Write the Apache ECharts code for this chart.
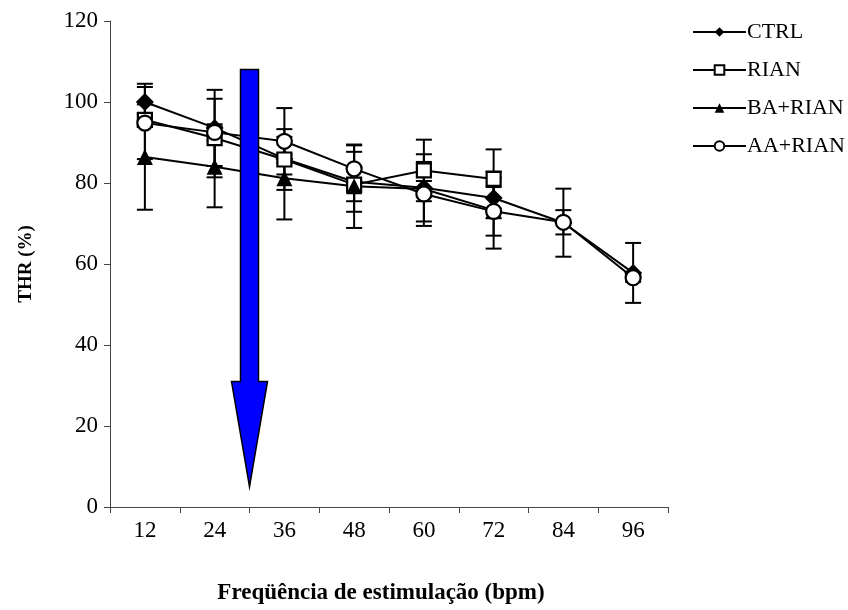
<!DOCTYPE html>
<html>
<head>
<meta charset="utf-8">
<title>THR (%) vs frequência de estimulação</title>
<script src="https://cdn.jsdelivr.net/npm/echarts@6/dist/echarts.min.js"></script>
<style>
  html, body { margin: 0; padding: 0; background: #fff; }
  #chart { width: 848px; height: 610px; }
</style>
</head>
<body>
<div id="chart"></div>
<script>
// Stimulation frequencies (bpm)
const categories = ['12', '24', '36', '48', '60', '72', '84', '96'];

// Group means (THR %) and standard deviations
const ctrl   = [100.0, 93.6, 86.0, 80.3, 78.8, 76.3, 70.2, 57.8];
const ctrlSd = [4.5, 9.4, 1.0, 7.4, 8.3, 5.0, 8.4, 7.4];

const rian   = [95.6, 91.1, 85.8, 79.6, 83.1, 81.0, null, null];
const rianSd = [1.5, 9.7, 7.5, 4.1, 7.6, 7.3, null, null];

const baRian   = [86.4, 84.0, 81.2, 79.2, 78.5, 73.3, null, null];
const baRianSd = [13.0, 10.0, 10.2, 10.3, 2.0, 9.5, null, null];

const aaRian   = [94.8, 92.5, 90.3, 83.5, 77.3, 73.0, 70.3, 56.6];
const aaRianSd = [8.9, 2.0, 8.2, 5.8, 7.9, 6.0, 3.0, 1.0];

// Y axis ticks
const yMin = 0, yMax = 120, yStep = 20;

// Arrow annotation (value range along the y axis, between 24 and 36 bpm)
const arrowFrom = ['24', '36'];
const arrowTop = 108, arrowHeadBase = 31, arrowTip = 5;

const FONT = "'Liberation Serif', 'Times New Roman', serif";

function errorData(means, sds) {
  const out = [];
  means.forEach((m, i) => {
    if (m != null && sds[i] != null) out.push([i, m - sds[i], m + sds[i]]);
  });
  return out;
}

function renderErrorBar(params, api) {
  const i = api.value(0);
  const lo = api.coord([i, api.value(1)]);
  const hi = api.coord([i, api.value(2)]);
  const hw = 8;
  const style = { stroke: '#000', lineWidth: 2 };
  return {
    type: 'group',
    children: [
      { type: 'line', shape: { x1: lo[0], y1: lo[1], x2: hi[0], y2: hi[1] }, style },
      { type: 'line', shape: { x1: hi[0] - hw, y1: hi[1], x2: hi[0] + hw, y2: hi[1] }, style },
      { type: 'line', shape: { x1: lo[0] - hw, y1: lo[1], x2: lo[0] + hw, y2: lo[1] }, style }
    ]
  };
}

function errorSeries(name, means, sds) {
  return {
    type: 'custom',
    name: name + ' SD',
    renderItem: renderErrorBar,
    data: errorData(means, sds),
    encode: { x: 0, y: [1, 2] },
    z: 1,
    silent: true
  };
}

const symbolSizes = { diamond: [18, 18], rect: 14, triangle: 16, circle: 15 };

function lineSeries(name, data, symbol, filled) {
  return {
    type: 'line',
    name: name,
    data: data,
    symbol: symbol,
    symbolSize: symbolSizes[symbol],
    showAllSymbol: true,
    connectNulls: false,
    z: 3,
    lineStyle: { color: '#000', width: 2 },
    itemStyle: {
      color: filled ? '#000' : '#fff',
      borderColor: '#000',
      borderWidth: filled ? 0 : 2.2
    }
  };
}

const chart = echarts.init(document.getElementById('chart'), null, { renderer: 'canvas' });

chart.setOption({
  animation: false,
  backgroundColor: '#fff',
  textStyle: { fontFamily: FONT, color: '#000' },
  grid: { left: 110, right: 180, top: 21, bottom: 102 },
  legend: {
    orient: 'vertical',
    left: 687,
    top: 16,
    itemWidth: 53,
    itemHeight: 12,
    itemGap: 16,
    data: ['CTRL', 'RIAN', 'BA+RIAN', 'AA+RIAN'],
    textStyle: { fontFamily: FONT, fontSize: 22, color: '#000', padding: [0, 0, 0, -4] }
  },
  xAxis: {
    type: 'category',
    data: categories,
    boundaryGap: true,
    name: 'Freqüência de estimulação (bpm)',
    nameLocation: 'middle',
    nameGap: 75,
    nameTextStyle: {
      fontFamily: FONT, fontSize: 23, fontWeight: 'bold', color: '#000',
      padding: [0, 16, 0, 0]
    },
    axisLine: { lineStyle: { color: '#444', width: 1 } },
    axisTick: { show: true, alignWithLabel: false, length: 6, lineStyle: { color: '#444' } },
    axisLabel: { fontFamily: FONT, fontSize: 23, color: '#000', margin: 12 },
    splitLine: { show: false }
  },
  yAxis: {
    type: 'value',
    min: yMin,
    max: yMax,
    interval: yStep,
    name: 'THR (%)',
    nameLocation: 'middle',
    nameGap: 74,
    nameTextStyle: { fontFamily: FONT, fontSize: 19, fontWeight: 'bold', color: '#000' },
    axisLine: { show: true, lineStyle: { color: '#444', width: 1 } },
    axisTick: { show: true, length: 6, lineStyle: { color: '#444' } },
    axisLabel: { fontFamily: FONT, fontSize: 23, color: '#000', margin: 12 },
    splitLine: { show: false }
  },
  series: [
    errorSeries('CTRL', ctrl, ctrlSd),
    errorSeries('RIAN', rian, rianSd),
    errorSeries('BA+RIAN', baRian, baRianSd),
    errorSeries('AA+RIAN', aaRian, aaRianSd),
    lineSeries('CTRL', ctrl, 'diamond', true),
    lineSeries('RIAN', rian, 'rect', false),
    lineSeries('BA+RIAN', baRian, 'triangle', true),
    lineSeries('AA+RIAN', aaRian, 'circle', false)
  ]
});

// Blue downward arrow placed between two categories, using the axis scales
function drawArrow() {
  const xa = chart.convertToPixel({ xAxisIndex: 0 }, arrowFrom[0]);
  const xb = chart.convertToPixel({ xAxisIndex: 0 }, arrowFrom[1]);
  const cx = (xa + xb) / 2;
  const yTop = chart.convertToPixel({ yAxisIndex: 0 }, arrowTop);
  const yBase = chart.convertToPixel({ yAxisIndex: 0 }, arrowHeadBase);
  const yTip = chart.convertToPixel({ yAxisIndex: 0 }, arrowTip);
  const shaft = 9, head = 18;
  chart.setOption({
    graphic: [{
      type: 'polygon',
      z: 10,
      shape: {
        points: [
          [cx - shaft, yTop], [cx + shaft, yTop], [cx + shaft, yBase],
          [cx + head, yBase], [cx, yTip], [cx - head, yBase], [cx - shaft, yBase]
        ]
      },
      style: { fill: '#0000ff', stroke: '#000', lineWidth: 1.5 }
    }]
  });
}
drawArrow();
</script>
</body>
</html>
